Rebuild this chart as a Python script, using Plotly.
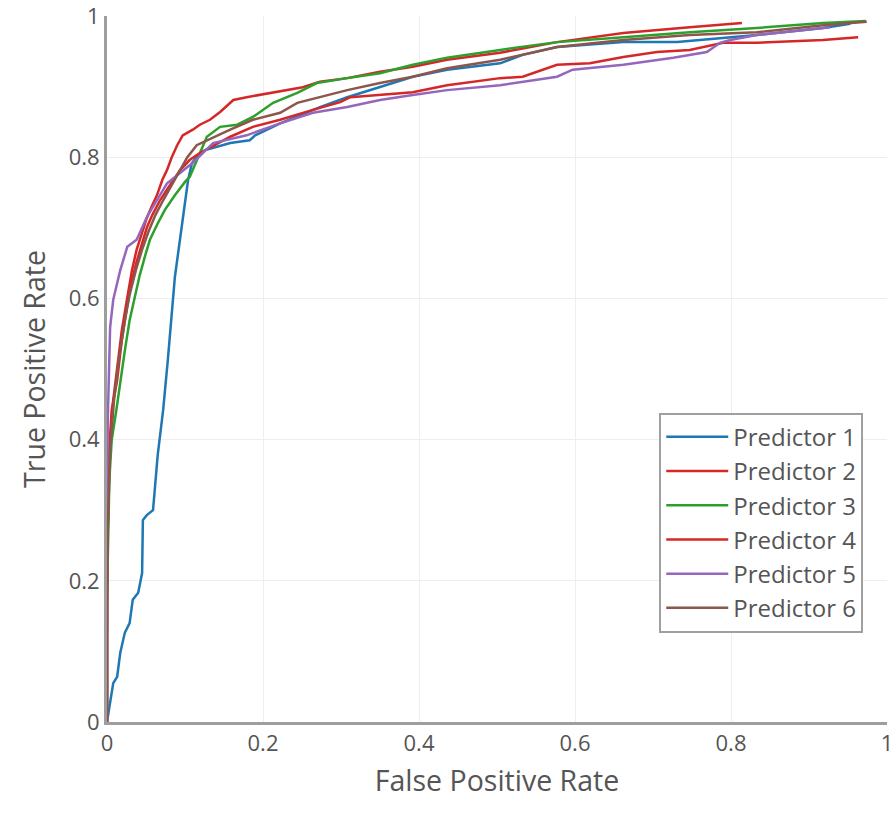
import plotly.graph_objects as go

names = ["Predictor 1", "Predictor 2", "Predictor 3", "Predictor 4", "Predictor 5", "Predictor 6"]
colors = ["#1f77b4", "#d62728", "#2ca02c", "#d62728", "#9467bd", "#8c564b"]
tick_vals = [0, 0.2, 0.4, 0.6, 0.8, 1]
tick_text = ["0", "0.2", "0.4", "0.6", "0.8", "1"]

fpr_1 = [0, 0.001, 0.008, 0.013, 0.017, 0.023, 0.029, 0.033, 0.040, 0.045, 0.046, 0.051, 0.059, 0.065, 0.072, 0.078, 0.083, 0.087, 0.094, 0.100, 0.104, 0.109, 0.115, 0.126, 0.158, 0.183, 0.190, 0.222, 0.273, 0.308, 0.350, 0.392, 0.436, 0.504, 0.533, 0.577, 0.662, 0.731, 0.833, 0.918, 0.953]
tpr_1 = [0, 0.007, 0.055, 0.064, 0.098, 0.127, 0.140, 0.173, 0.183, 0.211, 0.286, 0.293, 0.300, 0.378, 0.442, 0.513, 0.579, 0.630, 0.687, 0.735, 0.768, 0.792, 0.800, 0.810, 0.820, 0.824, 0.831, 0.848, 0.871, 0.885, 0.899, 0.914, 0.924, 0.933, 0.945, 0.956, 0.963, 0.963, 0.973, 0.983, 0.989]

fpr_2 = [0, 0, 0.001, 0.004, 0.008, 0.013, 0.019, 0.026, 0.032, 0.038, 0.045, 0.051, 0.058, 0.064, 0.071, 0.077, 0.083, 0.090, 0.097, 0.110, 0.119, 0.132, 0.145, 0.162, 0.179, 0.213, 0.251, 0.273, 0.308, 0.350, 0.392, 0.436, 0.504, 0.577, 0.662, 0.747, 0.814]
tpr_2 = [0, 0.116, 0.286, 0.399, 0.456, 0.499, 0.555, 0.601, 0.640, 0.669, 0.694, 0.714, 0.732, 0.746, 0.768, 0.782, 0.800, 0.817, 0.831, 0.839, 0.846, 0.853, 0.864, 0.881, 0.885, 0.892, 0.899, 0.907, 0.912, 0.921, 0.928, 0.938, 0.948, 0.963, 0.976, 0.984, 0.990]

fpr_3 = [0, 0, 0.003, 0.006, 0.012, 0.017, 0.023, 0.029, 0.035, 0.042, 0.049, 0.055, 0.064, 0.074, 0.087, 0.100, 0.106, 0.119, 0.128, 0.145, 0.167, 0.187, 0.213, 0.244, 0.269, 0.308, 0.350, 0.392, 0.436, 0.504, 0.577, 0.662, 0.747, 0.833, 0.918, 0.973]
tpr_3 = [0, 0.173, 0.343, 0.399, 0.442, 0.484, 0.527, 0.569, 0.598, 0.633, 0.661, 0.683, 0.704, 0.725, 0.746, 0.765, 0.772, 0.807, 0.829, 0.843, 0.846, 0.857, 0.877, 0.891, 0.905, 0.912, 0.919, 0.931, 0.941, 0.952, 0.963, 0.970, 0.977, 0.983, 0.990, 0.993]

fpr_4 = [0, 0, 0.003, 0.006, 0.013, 0.019, 0.026, 0.032, 0.038, 0.045, 0.051, 0.058, 0.068, 0.081, 0.094, 0.106, 0.119, 0.138, 0.158, 0.187, 0.222, 0.264, 0.299, 0.312, 0.350, 0.392, 0.436, 0.504, 0.533, 0.577, 0.619, 0.662, 0.705, 0.747, 0.790, 0.833, 0.918, 0.963]
tpr_4 = [0, 0.229, 0.385, 0.442, 0.484, 0.541, 0.591, 0.626, 0.652, 0.676, 0.700, 0.718, 0.739, 0.761, 0.782, 0.796, 0.806, 0.817, 0.829, 0.843, 0.853, 0.867, 0.878, 0.885, 0.888, 0.892, 0.902, 0.912, 0.914, 0.931, 0.933, 0.942, 0.949, 0.952, 0.962, 0.962, 0.966, 0.970]

fpr_5 = [0, 0, 0.001, 0.004, 0.008, 0.017, 0.026, 0.038, 0.051, 0.064, 0.077, 0.094, 0.110, 0.136, 0.179, 0.222, 0.264, 0.308, 0.350, 0.392, 0.436, 0.504, 0.533, 0.577, 0.597, 0.662, 0.726, 0.769, 0.786, 0.799, 0.833, 0.888, 0.927]
tpr_5 = [0, 0.258, 0.428, 0.559, 0.598, 0.640, 0.673, 0.683, 0.715, 0.739, 0.763, 0.778, 0.792, 0.820, 0.831, 0.848, 0.863, 0.871, 0.881, 0.888, 0.895, 0.902, 0.907, 0.914, 0.924, 0.931, 0.941, 0.949, 0.962, 0.966, 0.973, 0.980, 0.984]

fpr_6 = [0, 0, 0.001, 0.004, 0.009, 0.015, 0.023, 0.029, 0.037, 0.045, 0.053, 0.062, 0.072, 0.083, 0.094, 0.103, 0.115, 0.128, 0.158, 0.187, 0.222, 0.244, 0.273, 0.308, 0.350, 0.392, 0.436, 0.504, 0.577, 0.662, 0.747, 0.833, 0.918, 0.974]
tpr_6 = [0, 0.173, 0.272, 0.385, 0.456, 0.513, 0.569, 0.605, 0.640, 0.669, 0.694, 0.718, 0.739, 0.761, 0.782, 0.800, 0.817, 0.824, 0.839, 0.853, 0.863, 0.877, 0.885, 0.895, 0.905, 0.914, 0.926, 0.938, 0.956, 0.966, 0.973, 0.977, 0.987, 0.992]

fprs = [fpr_1, fpr_2, fpr_3, fpr_4, fpr_5, fpr_6]
tprs = [tpr_1, tpr_2, tpr_3, tpr_4, tpr_5, tpr_6]

fig = go.Figure()
for name, color, xs, ys in zip(names, colors, fprs, tprs):
    fig.add_trace(go.Scatter(x=xs, y=ys, mode="lines", name=name,
                             line=dict(color=color, width=2.5)))

axis_common = dict(
    range=[0, 1], tickmode="array", tickvals=tick_vals, ticktext=tick_text,
    ticklabeloverflow="allow", automargin=False,
    showgrid=True, gridcolor="#eeeeee", gridwidth=1,
    zeroline=False, showline=True, linecolor="#9e9e9e", linewidth=3,
    ticks="", tickfont=dict(size=22, color="#555555"),
)

fig.update_layout(
    width=894, height=824,
    margin=dict(l=107, r=7, t=16, b=102, autoexpand=False),
    paper_bgcolor="white", plot_bgcolor="white",
    font=dict(family="Open Sans, sans-serif", color="#555555"),
    xaxis=dict(title=dict(text="False Positive Rate", font=dict(size=28.5)), **axis_common),
    yaxis=dict(title=dict(text="True Positive Rate", font=dict(size=28.5)), **axis_common),
    legend=dict(x=0.708, y=0.438, xanchor="left", yanchor="top",
                bordercolor="#a0a0a0", borderwidth=2, bgcolor="white",
                font=dict(size=24, color="#555555"), itemwidth=62),
    showlegend=True,
)

fig.write_html("out.html")
